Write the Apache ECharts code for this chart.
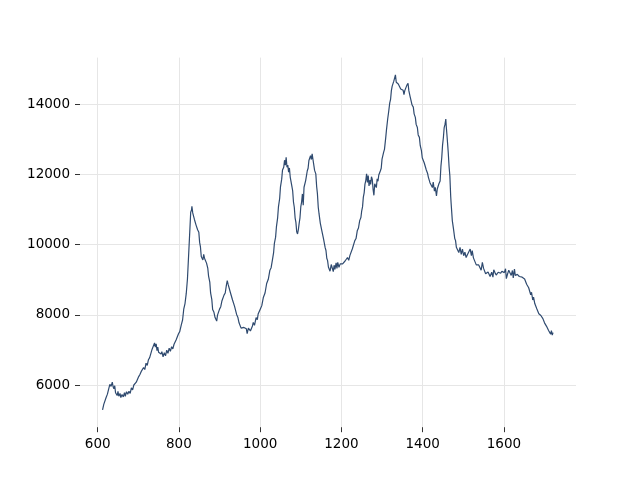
<!DOCTYPE html>
<html>
<head>
<meta charset="utf-8">
<script src="https://cdn.jsdelivr.net/npm/echarts@6/dist/echarts.min.js"></script>
<style>html,body{margin:0;padding:0;background:#fff}#chart{width:640px;height:480px}</style>
</head>
<body>
<div id="chart"></div>
<script>
const xTicks = [600, 800, 1000, 1200, 1400, 1600];
const yTicks = [6000, 8000, 10000, 12000, 14000];

const xs = [612,615,618,621,624,627,630,633,636,638,640,642,644,646,648,650,652,655,657,660,663,666,668,671,674,677,680,683,686,689,692,695,698,701,704,707,710,713,716,719,722,725,728,731,734,737,740,742,744,746,748,750,753,756,758,761,764,767,770,773,776,779,782,785,788,790,793,796,799,802,806,809,812,815,818,821,824,827,829,831,832,834,836,838,840,842,844,846,849,851,853,855,857,859,861,863,866,868,871,873,876,878,881,883,886,889,891,893,895,897,900,903,906,908,911,914,917,919,921,924,927,929,932,934,937,939,942,945,948,950,953,957,960,963,966,968,971,973,976,978,981,983,986,990,993,995,998,1001,1004,1008,1012,1016,1020,1024,1027,1030,1033,1035,1038,1040,1043,1045,1048,1050,1053,1055,1058,1060,1062,1064,1066,1068,1070,1072,1074,1076,1078,1080,1082,1084,1086,1088,1090,1092,1094,1096,1098,1100,1102,1104,1106,1108,1110,1112,1114,1116,1118,1120,1122,1124,1126,1128,1130,1132,1134,1137,1139,1141,1143,1145,1148,1150,1152,1154,1156,1158,1160,1162,1164,1166,1168,1170,1172,1175,1178,1180,1182,1184,1187,1189,1191,1194,1197,1200,1203,1206,1209,1212,1215,1218,1221,1224,1227,1230,1233,1236,1239,1242,1245,1248,1250,1252,1254,1256,1258,1260,1262,1264,1266,1268,1270,1272,1274,1276,1278,1280,1282,1284,1286,1288,1290,1292,1294,1296,1298,1300,1302,1304,1306,1309,1311,1314,1316,1319,1321,1323,1325,1327,1329,1331,1333,1335,1337,1340,1342,1344,1346,1348,1350,1352,1354,1356,1359,1361,1364,1366,1367,1369,1372,1374,1377,1379,1382,1384,1387,1389,1392,1394,1397,1399,1402,1404,1407,1409,1412,1414,1416,1418,1421,1424,1426,1429,1431,1434,1436,1438,1440,1443,1445,1447,1449,1451,1453,1455,1457,1458,1460,1462,1463,1465,1467,1469,1470,1473,1476,1479,1481,1483,1486,1489,1492,1495,1498,1501,1504,1507,1511,1514,1517,1520,1522,1525,1529,1532,1535,1538,1541,1544,1547,1550,1552,1555,1558,1561,1563,1566,1570,1573,1575,1578,1581,1584,1586,1589,1592,1595,1598,1601,1604,1606,1609,1612,1615,1618,1621,1623,1626,1628,1630,1633,1635,1638,1642,1645,1648,1651,1654,1656,1659,1661,1663,1666,1668,1671,1673,1676,1678,1681,1683,1686,1688,1691,1693,1696,1698,1700,1703,1705,1708,1710,1713,1715,1717,1719,1721];

const ys = [5290,5450,5500,5650,5740,5880,6020,5960,6080,5950,5890,5980,5780,5800,5700,5820,5680,5760,5640,5730,5660,5780,5680,5810,5740,5820,5760,5920,5860,6000,5980,6080,6120,6240,6300,6380,6360,6500,6440,6620,6560,6720,6780,6900,7020,7060,7200,7080,7170,6980,7080,6930,6980,6880,6950,6800,6920,6830,6990,6900,7050,6960,7090,7030,7160,7120,7280,7330,7460,
7520,7720,7850,8170,8320,8600,9020,9720,10430,10920,10980,11090,10900,10930,10720,10760,10560,10600,10420,10350,10060,9930,9660,9700,9560,9720,9610,9660,9470,9330,9100,8930,8620,8430,8150,8080,7920,7910,7820,7990,8010,8160,8230,8400,8420,8560,8620,8850,8970,8870,8830,8620,8600,8420,8400,8240,8210,8010,7930,7770,7740,7620,7650,7640,7590,7600,7460,7620,7640,7540,7540,7680,7780,7700,7920,7860,8020,8070,8180,8260,
8500,8620,8890,9010,9270,9340,9550,9760,10030,10210,10500,10760,11070,11310,11640,11860,12120,12200,12400,12260,12480,12200,12260,12060,12180,11920,11960,11660,11530,11210,11060,10760,10630,10360,10300,10420,10600,10760,11070,11210,11440,11120,11630,11670,11820,11870,12100,12170,12390,12420,12530,12420,12580,12420,12390,12110,12010,11660,11440,11060,10870,10610,10580,10380,10350,10160,10110,9910,9830,9610,9540,9360,9330,
9240,9430,9390,9230,9410,9290,9480,9320,9490,9350,9450,9440,9450,9480,9530,9530,9630,9550,9690,9730,9880,9920,10110,10170,10390,10470,10680,10770,10960,11070,11350,11470,11720,11820,12010,11770,11960,11670,11830,11710,11930,11850,11570,11400,11730,11760,11620,11870,11800,11980,11970,12100,12170,12430,12430,12630,12710,
13030,13270,13580,13750,14030,14130,14380,14510,14530,14650,14630,14830,14620,14570,14570,14520,14520,14430,14420,14380,14390,14270,14380,14420,14530,14590,14380,14370,14220,14190,13970,13910,13720,13620,13420,13330,13120,13050,12820,12670,12470,12430,12320,12340,12120,12030,11920,11910,11760,11730,11620,11780,11520,11630,11380,11580,11570,11730,11810,12230,12470,12830,13040,13330,13420,13570,13380,13090,12780,12620,12230,11950,11380,11190,
10680,10440,10170,10110,9920,9970,9770,9920,9720,9870,9680,9780,9630,9730,9750,9870,9680,9830,9620,9640,9420,9400,9420,9450,9270,9490,9320,9350,9170,9210,9220,9260,9090,9210,9070,9280,9200,9130,9170,9210,9250,9180,9240,9230,9200,9310,9030,9160,9270,9300,9120,9260,9050,9300,9120,9160,9150,9120,9090,9110,9070,9070,9020,9020,8870,8880,8770,8780,8570,8640,8420,8500,8320,8350,8170,8210,8030,8070,7980,8020,7890,7930,7770,7790,7670,7690,7550,7600,7450,7550,7420,7490];

const points = xs.map((x, i) => [x, ys[i]]);

const chart = echarts.init(document.getElementById('chart'), null, {renderer: 'canvas'});
const font = 'DejaVu Sans';
const gridColor = '#e6e6e6';
const tickColor = '#333333';
const plain = v => String(v);
chart.setOption({
  animation: false,
  backgroundColor: '#ffffff',
  grid: {left: 80, right: 64, top: 57.6, bottom: 52.8, containLabel: false},
  xAxis: {
    type: 'value', min: 556.5, max: 1777.5,
    axisLine: {show: false},
    axisTick: {show: true, customValues: xTicks, length: 5, lineStyle: {color: tickColor, width: 1}},
    axisLabel: {customValues: xTicks, formatter: plain, color: '#000', fontFamily: font, fontSize: 13.5, margin: 10},
    splitLine: {show: true, lineStyle: {color: gridColor, width: 1}}
  },
  yAxis: {
    type: 'value', min: 4799, max: 15321,
    axisLine: {show: false},
    axisTick: {show: true, customValues: yTicks, length: 5, lineStyle: {color: tickColor, width: 1}},
    axisLabel: {customValues: yTicks, formatter: plain, color: '#000', fontFamily: font, fontSize: 13.5, margin: 10},
    splitLine: {show: true, lineStyle: {color: gridColor, width: 1}}
  },
  series: [{
    type: 'line', data: points, showSymbol: false, symbol: 'none',
    sampling: false,
    lineStyle: {color: '#2f4a6f', width: 1.2}
  }]
});
</script>
</body>
</html>
